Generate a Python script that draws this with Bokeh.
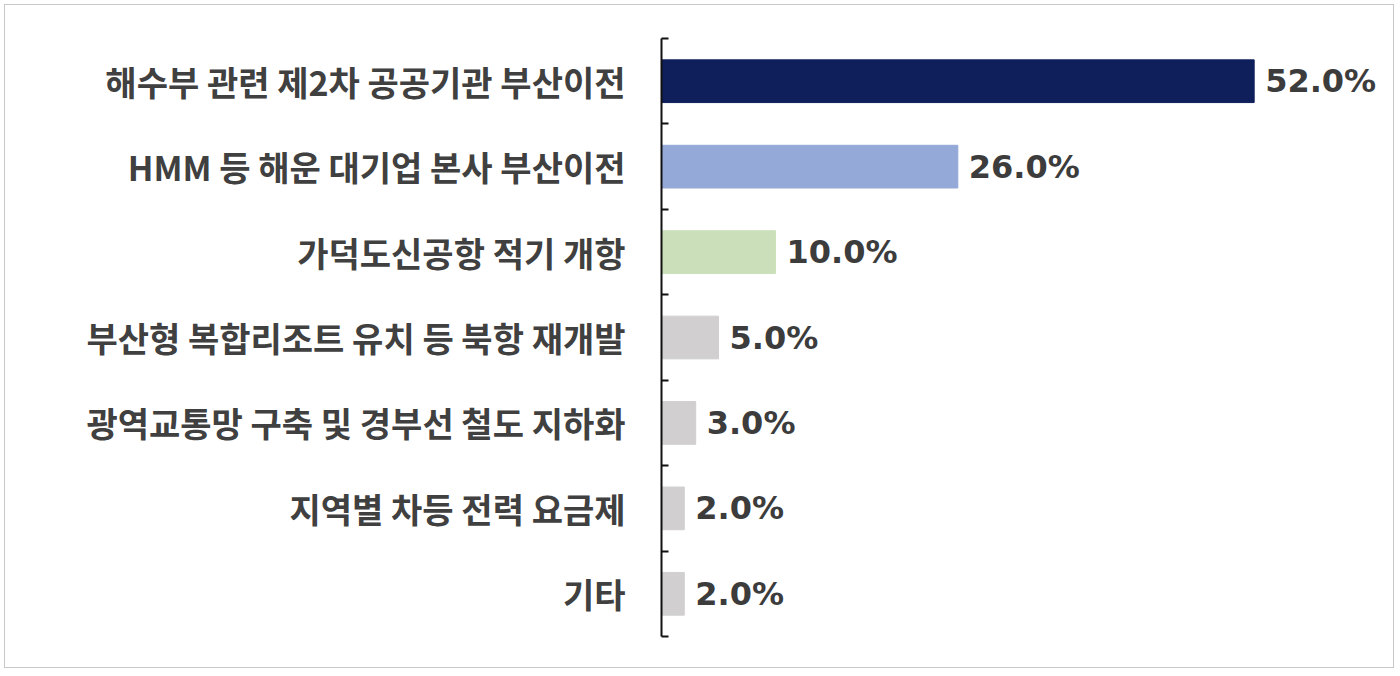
from bokeh.plotting import figure
from bokeh.models import ColumnDataSource, FixedTicker, Range1d
from bokeh.embed import file_html
from bokeh.resources import INLINE
from bokeh.core.properties import value

categories = ["해수부 관련 제2차 공공기관 부산이전", "HMM 등 해운 대기업 본사 부산이전",
              "가덕도신공항 적기 개항", "부산형 복합리조트 유치 등 북항 재개발",
              "광역교통망 구축 및 경부선 철도 지하화", "지역별 차등 전력 요금제", "기타"]
values = [52.0, 26.0, 10.0, 5.0, 3.0, 2.0, 2.0]
colors = ["#0E1F5B", "#94A9D8", "#CBE0BA", "#D1CFCF", "#D1CFCF", "#D1CFCF", "#D1CFCF"]

n = len(categories)
ypos = [n - i for i in range(n)]
labels = ["%.1f%%" % v for v in values]

src = ColumnDataSource(dict(y=ypos, v=values, c=colors, lab=labels))

p = figure(width=1390, height=664, output_backend="svg", toolbar_location=None,
           x_range=Range1d(0, 64.4), y_range=Range1d(0.114, n + 0.5),
           min_border_left=656, min_border_right=0, min_border_top=33, min_border_bottom=0)
p.styles = {"border": "1px solid #c8c8c8", "margin": "4px"}
p.outline_line_color = None
p.grid.visible = False
p.xaxis.visible = False

p.hbar(y="y", right="v", left=0, height=0.5, color="c", source=src)
p.text(x="v", y="y", text="lab", source=src, x_offset=11, text_baseline="middle",
       text_font=value("DejaVu Sans"), text_font_style="bold", text_font_size="32px",
       text_color="#3c3c3c")

ax = p.yaxis[0]
ax.bounds = (0.5, n + 0.5)
ax.ticker = FixedTicker(ticks=ypos, minor_ticks=[k + 0.5 for k in range(n + 1)])
ax.major_label_overrides = {y: c for y, c in zip(ypos, categories)}
ax.major_tick_line_color = None
ax.minor_tick_in = 7
ax.minor_tick_out = 0
ax.minor_tick_line_color = "#111111"
ax.minor_tick_line_width = 2
ax.axis_line_color = "#111111"
ax.axis_line_width = 2
ax.major_label_standoff = 30
ax.major_label_text_font = "Noto Sans CJK KR"
ax.major_label_text_font_style = "bold"
ax.major_label_text_font_size = "34px"
ax.major_label_text_color = "#404040"

open("out.html", "w").write(file_html(p, INLINE))
